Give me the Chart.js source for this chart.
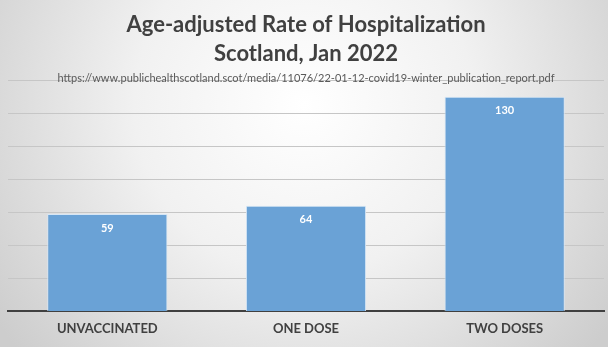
<!DOCTYPE html>
<html>
<head>
<meta charset="utf-8">
<script src="https://cdn.jsdelivr.net/npm/chart.js@4"></script>
<style>
  html, body { margin: 0; padding: 0; }
  body { width: 608px; height: 347px; overflow: hidden; }
  #wrap { position: relative; width: 608px; height: 347px; }
</style>
</head>
<body>
<div id="wrap"><canvas id="chart" width="608" height="347"></canvas></div>
<script>
const categories = ['UNVACCINATED', 'ONE DOSE', 'TWO DOSES'];
const rates = [59, 64, 130];
const titleLines = ['Age-adjusted Rate of Hospitalization', 'Scotland, Jan 2022'];
const sourceUrl = 'https://www.publichealthscotland.scot/media/11076/22-01-12-covid19-winter_publication_report.pdf';

// gray vignette background behind everything
const backdrop = {
    id: 'backdrop',
    beforeDraw(chart) {
        const ctx = chart.ctx;
        const w = chart.width, h = chart.height;
        const g = ctx.createRadialGradient(w / 2, h * 0.3, 0, w / 2, h * 0.3, w * 0.62);
        g.addColorStop(0, '#ffffff');
        g.addColorStop(0.45, '#f1f1f1');
        g.addColorStop(1, '#cdcdcd');
        ctx.save();
        ctx.fillStyle = g;
        ctx.fillRect(0, 0, w, h);
        ctx.restore();
    }
};

// value labels inside the top of each bar
const barLabels = {
    id: 'barLabels',
    afterDatasetsDraw(chart) {
        const ctx = chart.ctx;
        const meta = chart.getDatasetMeta(0);
        ctx.save();
        ctx.fillStyle = '#ffffff';
        ctx.font = 'bold 11px Lato, "Open Sans", sans-serif';
        ctx.textAlign = 'center';
        ctx.textBaseline = 'middle';
        meta.data.forEach((bar, i) => {
            ctx.fillText(String(rates[i]), bar.x, bar.y + 14);
        });
        ctx.restore();
    }
};

new Chart(document.getElementById('chart'), {
    type: 'bar',
    data: {
        labels: categories,
        datasets: [{
            data: rates,
            backgroundColor: '#6aa2d6',
            borderColor: '#d6e6f5',
            borderWidth: 1,
            borderSkipped: 'bottom',
            barPercentage: 1,
            categoryPercentage: 0.605
        }]
    },
    options: {
        responsive: false,
        animation: false,
        layout: { padding: { left: 8, right: 4, top: 0, bottom: 0 } },
        plugins: {
            legend: { display: false },
            tooltip: { enabled: false },
            title: {
                display: true,
                text: titleLines,
                color: '#404040',
                font: { family: 'Lato, "Open Sans", sans-serif', size: 22, weight: 'bold', lineHeight: 1.32 },
                padding: { top: 10, bottom: 2 }
            },
            subtitle: {
                display: true,
                text: sourceUrl,
                color: '#595959',
                font: { family: 'Lato, "Open Sans", sans-serif', size: 11 },
                padding: { top: 2, bottom: -5 }
            }
        },
        scales: {
            x: {
                grid: { display: false, drawTicks: false },
                border: { display: true, color: '#404040', width: 2 },
                ticks: {
                    color: '#404040',
                    font: { family: 'Lato, "Open Sans", sans-serif', size: 13, weight: 'bold' },
                    padding: 10
                }
            },
            y: {
                min: 0,
                max: 140,
                ticks: { stepSize: 20, display: false },
                grid: { color: '#c6c6c6', lineWidth: 1, drawTicks: false },
                border: { display: false }
            }
        }
    },
    plugins: [backdrop, barLabels]
});
</script>
</body>
</html>
